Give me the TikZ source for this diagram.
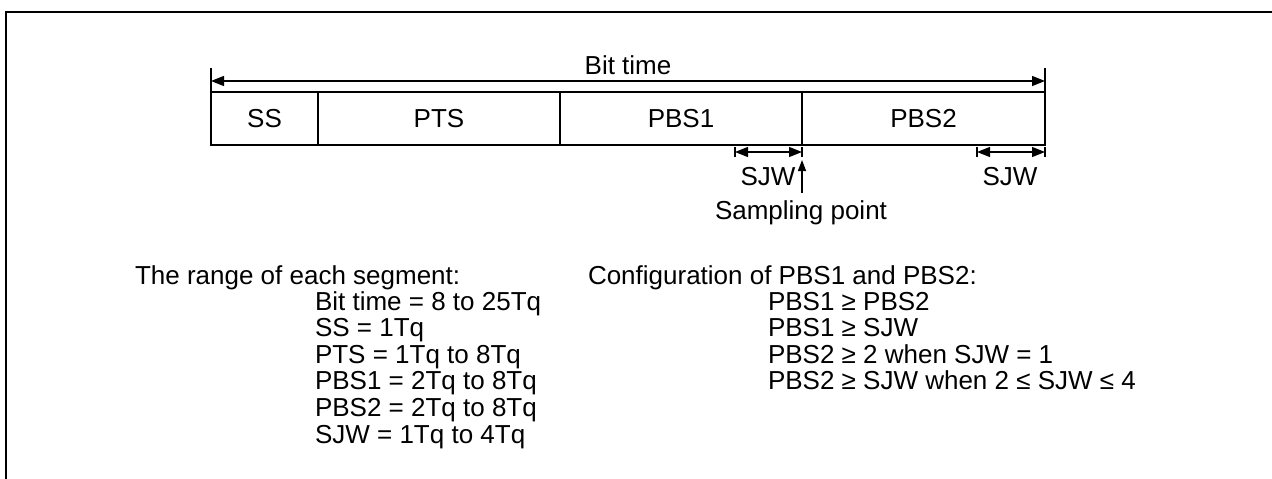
\documentclass[tikz,border=0pt]{standalone}
\usepackage{fontspec}
\setmainfont{Liberation Sans}
\usetikzlibrary{arrows.meta,positioning}

\begin{document}
\begin{tikzpicture}[
    x=1pt, y=-1pt,
    every node/.style={font=\fontsize{26pt}{26.6pt}\selectfont, inner sep=0pt, outer sep=0pt},
    cell/.style={draw, line width=1.4pt, minimum height=53pt},
    dim/.style={{Triangle[length=13pt,width=10pt]}-{Triangle[length=13pt,width=10pt]}, line width=1.4pt},
    tick/.style={line width=1.4pt},
    up/.style={-{Triangle[length=11pt,width=8pt]}, line width=1.4pt},
    txt/.style={anchor=base west}
]
\useasboundingbox (0,0) rectangle (1272,479);
\draw[line width=2.5pt] (6,481) |- (1274,12);

% segments of one bit
\node[cell, minimum width=107pt, anchor=north west] (ss) at (211,92) {SS};
\node[cell, minimum width=242pt, right=0pt of ss] (pts) {PTS};
\node[cell, minimum width=242pt, right=0pt of pts] (pbsa) {PBS1};
\node[cell, minimum width=243pt, right=0pt of pbsa] (pbsb) {PBS2};

% bit time
\coordinate (btl) at ([yshift=24pt]ss.north west);
\coordinate (btr) at ([yshift=24pt]pbsb.north east);
\draw[tick] (btl) -- (ss.north west);
\draw[tick] (btr) -- (pbsb.north east);
\draw[dim] ([yshift=-13pt]btl) -- ([yshift=-13pt]btr);
\node (bittime) at (628,65) {Bit time};

% resynchronization jump width
\coordinate (sjwal) at (735,152);
\coordinate (sjwar) at (802,152);
\coordinate (sjwbl) at (977,152);
\coordinate (sjwbr) at (1045,152);
\foreach \c in {sjwal,sjwar,sjwbl,sjwbr}
    \draw[tick] ([yshift=-5pt]\c) -- ([yshift=5pt]\c);
\draw[dim] (sjwal) -- (sjwar);
\draw[dim] (sjwbl) -- (sjwbr);
\node (sjwa) at (768,177) {SJW};
\node (sjwb) at (1010,177) {SJW};

% sampling point
\coordinate (spbot) at (802,193);
\coordinate (sptop) at (802,160);
\draw[up] (spbot) -- (sptop);
\node (sampling) at (801,213) {Sampling point};

% ranges
\node[txt] (rangehd) at (135,284) {The range of each segment:};
\foreach \t [count=\i] in {Bit time = 8 to 25Tq, SS = 1Tq, PTS = 1Tq to 8Tq,
        PBS1 = 2Tq to 8Tq, PBS2 = 2Tq to 8Tq, SJW = 1Tq to 4Tq}
    \node[txt] (range\i) at (315,{310+26.6*(\i-1)}) {\t};

% configuration
\node[txt] (confhd) at (588,284) {Configuration of PBS1 and PBS2:};
\foreach \t [count=\i] in {PBS1 ≥ PBS2, PBS1 ≥ SJW, PBS2 ≥ 2 when SJW = 1,
        PBS2 ≥ SJW when 2 ≤ SJW ≤ 4}
    \node[txt] (conf\i) at (768,{310+26.6*(\i-1)}) {\t};
\end{tikzpicture}
\end{document}
